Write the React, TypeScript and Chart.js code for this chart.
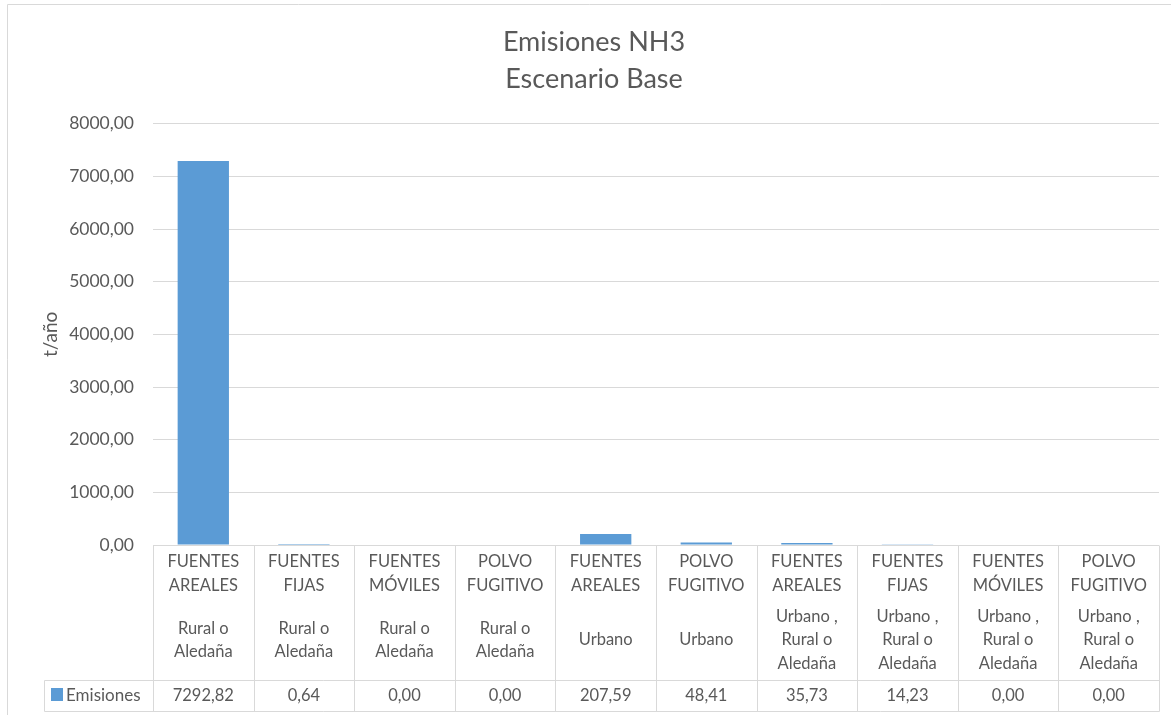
import React, { useEffect, useRef } from "react";
import { Chart, registerables } from "chart.js";

Chart.register(...registerables);

// ---- data ----
const titleLines = ["Emisiones NH3", "Escenario Base"];
const yAxisTitle = "t/año";
const seriesName = "Emisiones";
const sourceLines: string[][] = [
  ["FUENTES", "AREALES"],
  ["FUENTES", "FIJAS"],
  ["FUENTES", "MÓVILES"],
  ["POLVO", "FUGITIVO"],
  ["FUENTES", "AREALES"],
  ["POLVO", "FUGITIVO"],
  ["FUENTES", "AREALES"],
  ["FUENTES", "FIJAS"],
  ["FUENTES", "MÓVILES"],
  ["POLVO", "FUGITIVO"],
];
const zoneLines: string[][] = [
  ["Rural o", "Aledaña"],
  ["Rural o", "Aledaña"],
  ["Rural o", "Aledaña"],
  ["Rural o", "Aledaña"],
  ["Urbano"],
  ["Urbano"],
  ["Urbano ,", "Rural o", "Aledaña"],
  ["Urbano ,", "Rural o", "Aledaña"],
  ["Urbano ,", "Rural o", "Aledaña"],
  ["Urbano ,", "Rural o", "Aledaña"],
];
const emisiones = [7292.82, 0.64, 0.0, 0.0, 207.59, 48.41, 35.73, 14.23, 0.0, 0.0];
const yMin = 0;
const yMax = 8000;
const yStep = 1000;

// ---- styles ----
const TEXT = "#595959";
const GRID = "#d9d9d9";
const BAR = "#5b9bd5";
const FONT = "Lato";

const fmt = (v: number) => v.toFixed(2).replace(".", ",");

const tablePlugin = {
  id: "dataTable",
  afterDraw(chart: any) {
    const { ctx, chartArea, scales } = chart;
    const x = scales.x;
    const n = emisiones.length;
    const w = (chartArea.right - chartArea.left) / n;
    const bottom = chartArea.bottom;
    const rowTop = Math.round(bottom + 135) + 0.5;
    const rowBot = Math.round(bottom + 166) + 0.5;
    const legendLeft = Math.round(chartArea.left - 109) + 0.5;
    const top = Math.round(bottom) + 0.5;
    ctx.save();
    // outer chart border
    ctx.strokeStyle = GRID;
    ctx.lineWidth = 1;
    ctx.beginPath();
    ctx.moveTo(7.5, chart.height);
    ctx.lineTo(7.5, 4.5);
    ctx.lineTo(chart.width, 4.5);
    ctx.stroke();
    // table lines
    ctx.beginPath();
    for (let i = 0; i <= n; i++) {
      const px = Math.round(i < n ? x.getPixelForValue(i) - w / 2 : chartArea.right) + 0.5;
      ctx.moveTo(px, top);
      ctx.lineTo(px, rowBot);
    }
    ctx.moveTo(legendLeft, rowTop);
    ctx.lineTo(Math.round(chartArea.right) + 0.5, rowTop);
    ctx.moveTo(legendLeft, rowBot);
    ctx.lineTo(Math.round(chartArea.right) + 0.5, rowBot);
    ctx.moveTo(legendLeft, rowTop);
    ctx.lineTo(legendLeft, rowBot);
    ctx.stroke();
    // texts
    ctx.fillStyle = TEXT;
    ctx.font = `16.5px ${FONT}`;
    ctx.textAlign = "center";
    ctx.textBaseline = "middle";
    const lh = 23.5;
    for (let i = 0; i < n; i++) {
      const cx = x.getPixelForValue(i);
      sourceLines[i].forEach((t, j) => ctx.fillText(t, cx, bottom + 17 + j * 24));
      const zl = zoneLines[i];
      const start = bottom + 95 - ((zl.length - 1) * lh) / 2;
      zl.forEach((t, j) => ctx.fillText(t, cx, start + j * lh));
      ctx.fillText(fmt(emisiones[i]), cx, bottom + 151);
    }
    // legend cell
    ctx.fillStyle = BAR;
    ctx.fillRect(chartArea.left - 102, bottom + 143, 12, 13);
    ctx.fillStyle = TEXT;
    ctx.textAlign = "left";
    ctx.font = `17px ${FONT}`;
    ctx.fillText(seriesName, chartArea.left - 87, bottom + 151);
    ctx.restore();
  },
};

export default function App() {
  const ref = useRef<HTMLCanvasElement | null>(null);
  useEffect(() => {
    if (!ref.current) return;
    const chart = new Chart(ref.current, {
      type: "bar",
      data: {
        labels: sourceLines.map((s, i) => [...s, ...zoneLines[i]].join(" ")),
        datasets: [
          {
            label: seriesName,
            data: emisiones,
            backgroundColor: BAR,
            borderWidth: 0,
            barPercentage: 1,
            categoryPercentage: 0.51,
          },
        ],
      },
      options: {
        responsive: false,
        animation: false,
        layout: { padding: { left: 29, right: 12, top: 0, bottom: 0 } },
        plugins: {
          legend: { display: false },
          tooltip: { enabled: false },
          title: {
            display: true,
            text: titleLines,
            color: TEXT,
            font: { family: FONT, size: 27, weight: "normal", lineHeight: 1.37 },
            padding: { top: 23.5, bottom: 26.2 },
          },
        },
        scales: {
          x: {
            grid: { display: false },
            border: { display: false },
            ticks: { display: false },
            afterFit: (s: any) => {
              s.height = 170;
            },
          },
          y: {
            min: yMin,
            max: yMax,
            grid: { color: GRID, drawTicks: false },
            border: { display: false },
            ticks: {
              stepSize: yStep,
              padding: 19,
              color: TEXT,
              font: { family: FONT, size: 17.5 },
              callback: (v: any) => fmt(Number(v)),
            },
            title: {
              display: true,
              text: yAxisTitle,
              color: TEXT,
              font: { family: FONT, size: 19 },
              padding: { top: 10, bottom: 0 },
            },
            afterFit: (s: any) => {
              s.width = 124;
            },
          },
        },
      },
      plugins: [tablePlugin],
    });
    return () => chart.destroy();
  }, []);
  return (
    <div style={{ position: "absolute", left: 0, top: 0, width: 1171, height: 715, background: "#fff" }}>
      <canvas ref={ref} width={1171} height={715} />
    </div>
  );
}
